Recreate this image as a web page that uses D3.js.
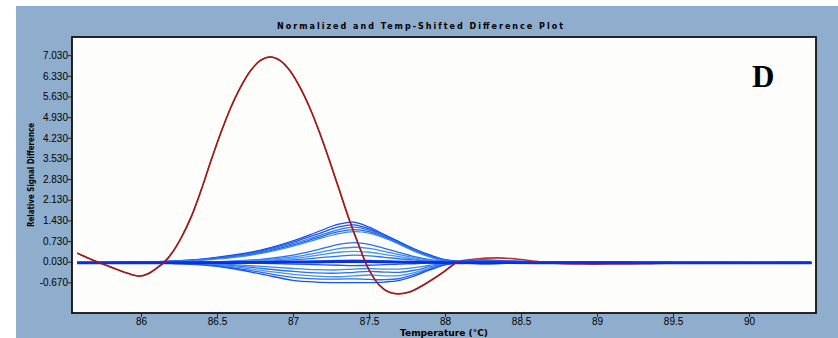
<!DOCTYPE html>
<html>
<head>
<meta charset="utf-8">
<script src="https://cdn.jsdelivr.net/npm/d3@7"></script>
<style>
  html, body { margin: 0; padding: 0; background: #ffffff; }
  svg { display: block; }
</style>
</head>
<body>
<svg id="chart" width="838" height="338"></svg>
<script>
// ---------- DATA ----------
const chartTitle = "Normalized and Temp-Shifted Difference Plot";
const xAxisTitle = "Temperature (°C)";
const yAxisTitle = "Relative Signal Difference";
const panelLabel = "D";

const xTickValues = [86, 86.5, 87, 87.5, 88, 88.5, 89, 89.5, 90];
const xTickLabels = ["86", "86.5", "87", "87.5", "88", "88.5", "89", "89.5", "90"];
const yTickValues = [-0.67, 0.03, 0.73, 1.43, 2.13, 2.83, 3.53, 4.23, 4.93, 5.63, 6.33, 7.03];
const yTickLabels = ["-0.670", "0.030", "0.730", "1.430", "2.130", "2.830", "3.530", "4.230", "4.930", "5.630", "6.330", "7.030"];

// red (outlier) curve
const redTemps  = [85.58, 85.68, 85.80, 85.91, 85.99, 86.05, 86.10, 86.15, 86.20, 86.265, 86.33, 86.395, 86.46, 86.525, 86.59, 86.655, 86.72, 86.785, 86.85, 86.915, 86.98, 87.045, 87.11, 87.175, 87.24, 87.305, 87.37, 87.435, 87.50, 87.565, 87.63, 87.69, 87.77, 87.88, 87.99, 88.08, 88.20, 88.35, 88.47, 88.60, 88.75, 88.90, 89.10, 89.30, 89.50, 90.00, 90.41];
const redValues = [0.32, 0.09, -0.15, -0.36, -0.46, -0.37, -0.20, 0.00, 0.30, 0.85, 1.55, 2.45, 3.45, 4.40, 5.25, 5.95, 6.50, 6.85, 6.97, 6.85, 6.50, 5.95, 5.25, 4.40, 3.45, 2.45, 1.45, 0.55, -0.25, -0.75, -1.00, -1.06, -0.99, -0.69, -0.32, 0.02, 0.12, 0.16, 0.12, 0.04, -0.03, -0.05, -0.05, -0.04, -0.01, 0.00, 0.00];

// blue (reference) curves, all on the same temperature grid
const blueTemps = [85.58, 85.80, 86.00, 86.20, 86.40, 86.60, 86.80, 87.00, 87.15, 87.30, 87.40, 87.50, 87.60, 87.70, 87.80, 87.90, 88.00, 88.10, 88.25, 88.40, 88.60, 88.90, 89.30, 89.70, 90.00, 90.41];
const blue01 = [0.00, 0.01, 0.02, 0.05, 0.12, 0.25, 0.44, 0.74, 1.02, 1.30, 1.37, 1.20, 0.95, 0.70, 0.46, 0.26, 0.10, 0.05, 0.09, 0.06, 0.03, 0.02, 0.01, 0.01, 0.00, 0.00];
const blue02 = [0.01, 0.01, 0.02, 0.05, 0.11, 0.23, 0.41, 0.69, 0.95, 1.21, 1.28, 1.14, 0.92, 0.68, 0.44, 0.24, 0.09, 0.04, 0.07, 0.05, 0.03, 0.02, 0.01, 0.00, 0.00, 0.01];
const blue03 = [-0.01, 0.00, 0.01, 0.04, 0.10, 0.21, 0.38, 0.64, 0.88, 1.12, 1.20, 1.10, 0.90, 0.66, 0.42, 0.22, 0.08, 0.03, 0.05, 0.04, 0.02, 0.01, 0.00, 0.00, 0.00, 0.00];
const blue04 = [0.00, 0.00, 0.01, 0.04, 0.09, 0.19, 0.35, 0.60, 0.83, 1.05, 1.12, 1.05, 0.87, 0.64, 0.40, 0.20, 0.06, 0.02, 0.04, 0.03, 0.02, 0.01, 0.00, 0.00, 0.00, -0.01];
const blue05 = [0.00, 0.00, 0.01, 0.03, 0.08, 0.17, 0.32, 0.56, 0.78, 0.98, 1.05, 1.00, 0.84, 0.62, 0.38, 0.19, 0.05, 0.01, 0.03, 0.03, 0.01, 0.00, 0.00, 0.00, 0.00, 0.00];
const blue06 = [0.00, 0.00, 0.00, 0.01, 0.02, 0.05, 0.12, 0.25, 0.42, 0.62, 0.68, 0.62, 0.48, 0.34, 0.20, 0.10, 0.03, 0.02, 0.04, 0.03, 0.01, 0.00, 0.00, 0.00, 0.00, 0.00];
const blue07 = [0.00, 0.00, 0.00, 0.01, 0.02, 0.04, 0.09, 0.19, 0.32, 0.47, 0.52, 0.48, 0.38, 0.27, 0.16, 0.08, 0.02, 0.01, 0.03, 0.02, 0.01, 0.00, 0.00, 0.00, 0.00, 0.00];
const blue08 = [0.00, 0.00, 0.00, 0.01, 0.01, 0.03, 0.07, 0.14, 0.24, 0.35, 0.38, 0.35, 0.28, 0.20, 0.12, 0.06, 0.02, 0.01, 0.02, 0.02, 0.01, 0.00, 0.00, 0.00, 0.00, 0.00];
const blue09 = [0.00, 0.00, 0.00, 0.00, 0.01, 0.02, 0.04, 0.09, 0.15, 0.22, 0.25, 0.23, 0.18, 0.13, 0.08, 0.04, 0.01, 0.00, 0.02, 0.01, 0.00, 0.00, 0.00, 0.00, 0.00, 0.00];
const blue10 = [0.00, 0.00, 0.00, 0.00, 0.01, 0.01, 0.02, 0.04, 0.05, 0.07, 0.08, 0.07, 0.06, 0.04, 0.03, 0.02, 0.01, 0.00, 0.01, 0.01, 0.00, 0.00, 0.00, 0.00, 0.00, 0.00];
const blue11 = [0.00, 0.00, 0.00, 0.00, -0.01, -0.02, -0.03, -0.05, -0.07, -0.09, -0.10, -0.09, -0.07, -0.05, -0.04, -0.02, -0.01, 0.00, -0.01, -0.01, 0.00, 0.00, 0.00, 0.00, 0.00, 0.00];
const blue12 = [0.00, 0.00, 0.00, -0.01, -0.03, -0.07, -0.13, -0.20, -0.24, -0.25, -0.22, -0.20, -0.22, -0.22, -0.17, -0.09, -0.03, -0.01, -0.02, -0.01, 0.00, 0.00, 0.00, 0.00, 0.00, 0.00];
const blue13 = [0.00, 0.00, -0.01, -0.02, -0.05, -0.10, -0.20, -0.30, -0.35, -0.36, -0.33, -0.30, -0.32, -0.33, -0.26, -0.14, -0.04, -0.01, -0.03, -0.02, -0.01, 0.00, 0.00, 0.00, 0.00, 0.00];
const blue14 = [0.00, 0.00, -0.01, -0.02, -0.06, -0.14, -0.27, -0.40, -0.46, -0.48, -0.45, -0.42, -0.45, -0.44, -0.34, -0.19, -0.06, -0.01, -0.02, -0.02, -0.01, 0.00, 0.00, 0.00, 0.00, 0.00];
const blue15 = [0.00, 0.00, -0.01, -0.03, -0.07, -0.17, -0.34, -0.50, -0.55, -0.56, -0.55, -0.57, -0.58, -0.54, -0.40, -0.22, -0.07, -0.02, -0.03, -0.02, -0.01, 0.00, 0.00, 0.00, 0.00, 0.00];
const blue16 = [0.00, 0.00, -0.01, -0.03, -0.08, -0.20, -0.40, -0.60, -0.66, -0.68, -0.68, -0.68, -0.66, -0.60, -0.45, -0.25, -0.08, -0.02, -0.05, -0.03, -0.02, -0.01, 0.00, 0.00, 0.00, 0.00];
const blueSeries = [blue01, blue02, blue03, blue04, blue05, blue06, blue07, blue08, blue09, blue10, blue11, blue12, blue13, blue14, blue15, blue16];

// ---------- DRAW ----------
const svg = d3.select("#chart");
const W = 838, H = 338;
const plot = { left: 72, right: 816, top: 37, bottom: 313 };

const x = d3.scaleLinear().domain([85.546, 90.44]).range([plot.left, plot.right]);
const y = d3.scaleLinear().domain([-1.709, 7.647]).range([plot.bottom, plot.top]);

// background panel
svg.append("rect").attr("x", 0).attr("y", 0).attr("width", W).attr("height", H).attr("fill", "#ffffff");
svg.append("rect").attr("x", 16).attr("y", 6).attr("width", W - 16).attr("height", H - 6).attr("fill", "#8fadcc");

// plot area
svg.append("rect")
  .attr("x", plot.left).attr("y", plot.top)
  .attr("width", plot.right - plot.left).attr("height", plot.bottom - plot.top)
  .attr("fill", "#fdfdfc");

svg.append("clipPath").attr("id", "clip")
  .append("rect").attr("x", plot.left).attr("y", plot.top)
  .attr("width", plot.right - plot.left).attr("height", plot.bottom - plot.top);

const g = svg.append("g").attr("clip-path", "url(#clip)");

const line = d3.line()
  .x(d => x(d[0])).y(d => y(d[1]))
  .curve(d3.curveCatmullRom.alpha(0.5));

const redPts = redTemps.map((t, i) => [t, redValues[i]]);

// red underneath (flat tail hidden by blue band)
g.append("path").attr("d", line(redPts))
  .attr("fill", "none").attr("stroke", "#c0302a").attr("stroke-width", 1.6);

const blueColors = ["#1448f0", "#1a55ee", "#2f78ec", "#2266ee", "#3a86ee",
                    "#2a6df0", "#3f8cf0", "#4a98f2", "#2e74ee", "#1a4ff0",
                    "#1d56ee", "#3b88f0", "#2c70ee", "#4692f2", "#2a6cee", "#1c52ef"];

blueSeries.forEach((vals, i) => {
  const pts = blueTemps.map((t, j) => [t, vals[j]]);
  g.append("path").attr("d", line(pts))
    .attr("fill", "none").attr("stroke", blueColors[i]).attr("stroke-width", 1.3);
});

// thick dark baseline band
g.append("path").attr("d", line(blueTemps.map((t, j) => [t, blue10[j] * 0.5 - 0.005])))
  .attr("fill", "none").attr("stroke", "#0a2ee6").attr("stroke-width", 2.8);

// red on top for the main region
const redTop = redPts.filter(d => d[0] <= 88.1);
g.append("path").attr("d", line(redTop))
  .attr("fill", "none").attr("stroke", "#9a1c1c").attr("stroke-width", 1.4);

// frame
svg.append("rect")
  .attr("x", plot.left).attr("y", plot.top)
  .attr("width", plot.right - plot.left).attr("height", plot.bottom - plot.top)
  .attr("fill", "none").attr("stroke", "#111").attr("stroke-width", 1.8);

// axes
const xAxis = d3.axisBottom(x).tickValues(xTickValues)
  .tickFormat((d, i) => xTickLabels[i]).tickSize(4).tickSizeOuter(0);
const gx = svg.append("g").attr("transform", `translate(0,${plot.bottom})`).call(xAxis);
gx.select(".domain").remove();
gx.selectAll("line").attr("stroke", "#222");
gx.selectAll("text").attr("font-family", "Liberation Sans, Arial, sans-serif")
  .attr("font-size", 10).attr("fill", "#000").attr("y", 5).attr("dy", "0.71em");

const yAxis = d3.axisLeft(y).tickValues(yTickValues)
  .tickFormat((d, i) => yTickLabels[i]).tickSize(4).tickSizeOuter(0);
const gy = svg.append("g").attr("transform", `translate(${plot.left},0)`).call(yAxis);
gy.select(".domain").remove();
gy.selectAll("line").attr("stroke", "#222");
gy.selectAll("text").attr("font-family", "Liberation Sans, Arial, sans-serif")
  .attr("font-size", 10).attr("fill", "#000").attr("x", -4);

// titles
svg.append("text").text(chartTitle)
  .attr("x", 277).attr("y", 29)
  .attr("font-family", "DejaVu Sans, Verdana, sans-serif").attr("font-weight", "bold")
  .attr("font-size", 8).attr("fill", "#000")
  .attr("textLength", 286).attr("lengthAdjust", "spacing");

svg.append("text").text(xAxisTitle)
  .attr("x", 400).attr("y", 336)
  .attr("font-family", "DejaVu Sans, Verdana, sans-serif").attr("font-weight", "bold")
  .attr("font-size", 8.5).attr("fill", "#000")
  .attr("textLength", 88).attr("lengthAdjust", "spacingAndGlyphs");

svg.append("text").text(yAxisTitle)
  .attr("transform", "translate(34,227) rotate(-90)")
  .attr("x", 0).attr("y", 0)
  .attr("font-family", "DejaVu Sans, Verdana, sans-serif").attr("font-weight", "bold")
  .attr("font-size", 8).attr("fill", "#000")
  .attr("textLength", 104).attr("lengthAdjust", "spacingAndGlyphs");

svg.append("text").text(panelLabel)
  .attr("x", 752).attr("y", 87)
  .attr("font-family", "Liberation Serif, Times New Roman, serif").attr("font-weight", "bold")
  .attr("font-size", 31).attr("fill", "#000");
</script>
</body>
</html>
